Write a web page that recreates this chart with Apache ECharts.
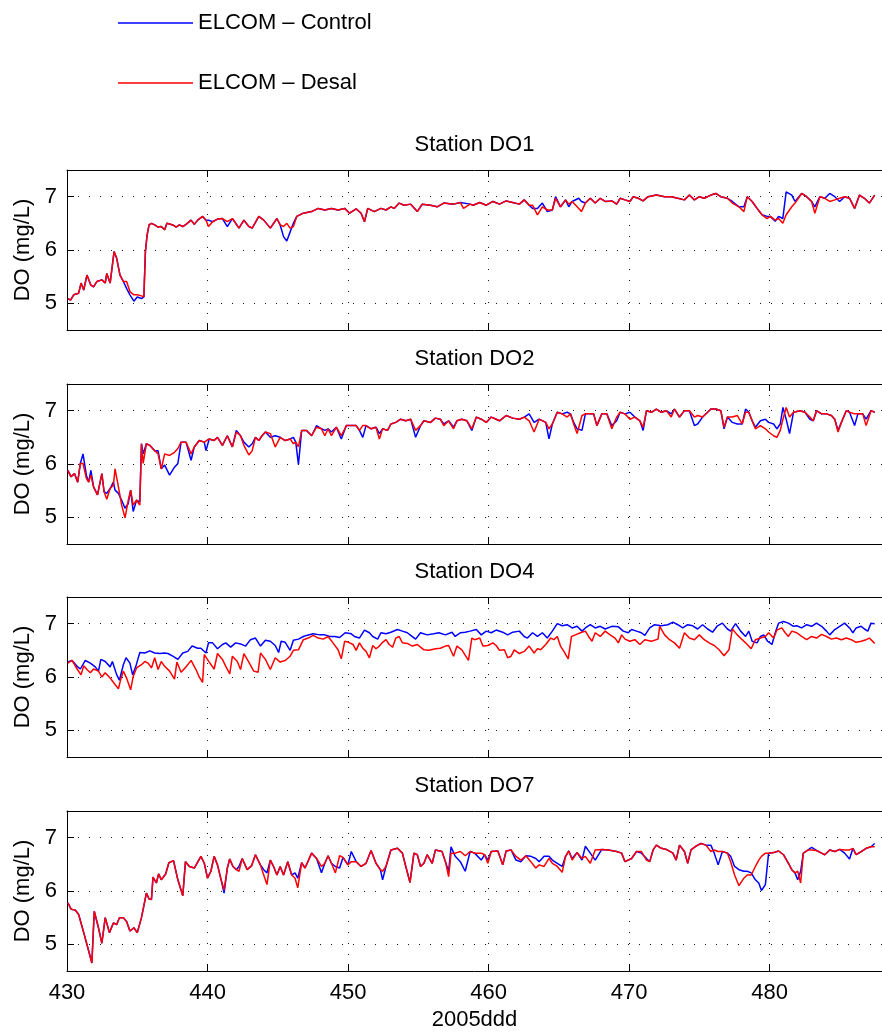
<!DOCTYPE html>
<html>
<head>
<meta charset="utf-8">
<title>Station DO comparison</title>
<script src="https://cdn.jsdelivr.net/npm/echarts@6/dist/echarts.min.js"></script>
<style>
  html, body { margin: 0; padding: 0; background: #fff; }
  #chart { width: 882px; height: 1032px; }
</style>
</head>
<body>
<div id="chart"></div>
<script>
// ---- data: day of year (2005ddd) and dissolved oxygen (mg/L) ----
const stationNames = ['Station DO1', 'Station DO2', 'Station DO4', 'Station DO7'];
const seriesNames = ['ELCOM \u2013 Control', 'ELCOM \u2013 Desal'];
const xTicks = [430, 440, 450, 460, 470, 480];
const yTicks = [5, 6, 7];

// Station DO1 (shared time base)
const days1 = [430.06,430.25,430.48,430.83,431.0,431.19,431.42,431.7,431.89,432.13,
432.48,432.72,432.83,433.07,433.35,433.54,433.77,434.01,434.24,434.48,
434.76,435.0,435.3,435.47,435.58,435.7,435.84,436.01,436.24,436.48,
436.71,436.95,437.11,437.53,437.77,438.0,438.24,438.47,438.83,439.06,
439.3,439.65,439.89,440.07,440.36,440.71,441.06,441.41,441.77,442.24,
442.59,442.94,443.18,443.65,444.0,444.47,444.94,445.17,445.41,445.64,
445.88,446.11,446.35,446.82,447.41,447.88,448.35,448.82,449.29,449.76,
450.11,450.58,450.93,451.17,451.4,451.87,452.34,452.7,453.05,453.28,
453.64,453.99,454.46,454.93,455.28,455.87,456.34,456.81,457.51,457.99,
458.22,458.69,458.9,459.37,459.84,460.31,460.78,461.25,461.72,462.19,
462.54,462.89,463.13,463.48,463.83,464.18,464.54,464.77,465.12,465.48,
465.71,465.95,466.42,466.61,466.89,467.24,467.59,467.95,468.3,468.77,
469.12,469.36,469.71,470.06,470.3,470.65,471.0,471.35,471.94,472.53,
473.0,473.47,473.94,474.29,474.65,475.0,475.35,475.82,476.17,476.53,
477.0,477.35,477.82,478.17,478.41,478.76,479.11,479.46,479.82,480.05,
480.4,480.64,480.94,481.18,481.58,481.81,482.28,482.64,482.99,483.22,
483.58,483.93,484.28,484.64,484.99,485.34,485.69,486.05,486.4,486.75,
487.1,487.48];
const ctrl1 = [5.09,5.06,5.16,5.19,5.38,5.25,5.53,5.34,5.31,5.41,
5.44,5.38,5.56,5.38,5.97,5.84,5.53,5.41,5.28,5.16,
5.04,5.12,5.09,5.12,5.97,6.28,6.47,6.5,6.47,6.43,
6.44,6.38,6.5,6.47,6.43,6.47,6.44,6.48,6.56,6.48,
6.56,6.63,6.56,6.56,6.53,6.58,6.59,6.44,6.59,6.41,
6.56,6.44,6.41,6.63,6.56,6.41,6.59,6.47,6.25,6.17,
6.34,6.5,6.63,6.69,6.72,6.78,6.75,6.78,6.75,6.78,
6.69,6.77,6.69,6.53,6.78,6.72,6.78,6.75,6.81,6.78,
6.88,6.84,6.86,6.72,6.86,6.84,6.81,6.88,6.86,6.89,
6.88,6.86,6.84,6.89,6.84,6.91,6.86,6.92,6.89,6.86,
6.94,6.84,6.78,6.78,6.88,6.72,6.75,7.0,6.81,6.94,
6.81,6.91,6.97,6.91,6.88,6.97,6.88,6.97,6.91,6.92,
6.86,6.97,6.94,6.91,7.0,6.97,6.92,7.0,7.03,7.0,
7.0,6.97,6.94,7.03,6.94,7.0,6.97,7.03,7.06,7.0,
6.97,6.91,6.81,6.81,7.0,6.91,6.78,6.66,6.63,6.63,
6.54,6.63,6.59,7.09,7.03,6.91,7.06,7.0,6.91,6.81,
7.0,6.97,7.06,7.0,6.91,7.0,6.97,6.78,7.03,6.97,
6.88,7.03];
const desal1 = [5.09,5.06,5.16,5.19,5.38,5.25,5.53,5.34,5.31,5.41,
5.44,5.38,5.56,5.38,5.97,5.84,5.53,5.41,5.41,5.22,
5.16,5.16,5.14,5.12,5.97,6.28,6.47,6.5,6.47,6.43,
6.44,6.38,6.5,6.47,6.43,6.47,6.44,6.48,6.56,6.48,
6.56,6.63,6.56,6.44,6.53,6.58,6.59,6.53,6.59,6.41,
6.56,6.44,6.41,6.63,6.56,6.41,6.59,6.47,6.44,6.5,
6.41,6.44,6.63,6.69,6.72,6.78,6.75,6.78,6.75,6.78,
6.69,6.77,6.69,6.53,6.78,6.72,6.78,6.75,6.81,6.78,
6.88,6.84,6.86,6.72,6.86,6.84,6.81,6.88,6.86,6.89,
6.78,6.86,6.84,6.89,6.84,6.91,6.86,6.92,6.89,6.86,
6.94,6.84,6.84,6.66,6.81,6.75,6.75,6.97,6.81,6.94,
6.86,6.91,6.78,6.72,6.88,6.97,6.88,6.97,6.91,6.92,
6.86,6.97,6.94,6.91,7.0,6.97,6.92,7.0,7.03,7.0,
7.0,6.97,6.94,7.03,6.94,7.0,6.97,7.03,7.06,7.0,
6.97,6.88,6.81,6.72,7.0,6.91,6.78,6.66,6.59,6.63,
6.56,6.59,6.5,6.66,6.81,6.88,7.06,7.0,6.91,6.69,
7.0,6.97,6.91,6.94,6.97,7.0,6.97,6.78,7.03,6.97,
6.88,7.03];

// Station DO2 (shared time base)
const days2 = [430.06,430.29,430.53,430.76,430.95,431.14,431.38,431.54,431.7,431.89,
432.17,432.48,432.64,432.83,433.07,433.3,433.42,433.66,433.89,434.13,
434.36,434.53,434.71,434.95,435.18,435.3,435.42,435.65,435.89,436.24,
436.48,436.71,436.95,437.3,437.65,437.89,438.12,438.47,438.83,439.06,
439.41,439.77,439.89,440.12,440.47,440.71,441.06,441.41,441.77,442.05,
442.35,442.59,442.94,443.18,443.41,443.65,443.88,444.12,444.47,444.82,
445.17,445.53,445.88,446.11,446.28,446.47,446.7,447.05,447.41,447.76,
448.11,448.35,448.58,448.82,449.17,449.52,449.88,450.23,450.58,450.81,
451.05,451.28,451.64,451.99,452.23,452.46,452.81,453.05,453.4,453.75,
454.11,454.46,454.81,455.16,455.4,455.87,456.22,456.57,456.81,457.16,
457.51,457.75,458.1,458.46,458.81,459.13,459.48,459.84,460.19,460.54,
460.78,461.25,461.72,462.19,462.54,462.89,463.24,463.6,464.07,464.3,
464.54,464.89,465.24,465.59,465.83,466.06,466.3,466.65,466.89,467.24,
467.48,467.71,468.06,468.42,468.77,469.12,469.36,469.71,470.06,470.41,
470.77,471.0,471.24,471.59,471.94,472.29,472.65,473.0,473.23,473.59,
473.94,474.29,474.65,474.88,475.23,475.59,475.82,476.17,476.53,476.76,
477.0,477.35,477.7,478.05,478.29,478.52,478.76,478.99,479.35,479.7,
479.93,480.29,480.52,480.76,480.95,481.18,481.42,481.7,482.17,482.52,
482.87,483.11,483.34,483.7,484.05,484.4,484.64,484.87,485.11,485.46,
485.69,486.05,486.28,486.63,486.87,487.22,487.48];
const ctrl2 = [5.88,5.76,5.82,5.66,6.01,6.19,5.79,5.66,5.88,5.57,
5.42,5.82,5.48,5.45,5.54,5.66,5.51,5.45,5.32,5.17,
5.26,5.51,5.11,5.32,5.29,6.38,6.19,6.38,6.35,6.25,
6.25,5.91,5.98,5.79,5.94,6.01,6.41,6.41,6.07,6.32,
6.44,6.41,6.25,6.47,6.44,6.5,6.35,6.53,6.32,6.63,
6.53,6.41,6.32,6.38,6.5,6.44,6.53,6.6,6.5,6.53,
6.5,6.44,6.47,6.5,6.41,5.99,6.63,6.63,6.53,6.72,
6.66,6.63,6.66,6.6,6.69,6.47,6.72,6.72,6.72,6.63,
6.5,6.72,6.66,6.69,6.57,6.66,6.63,6.75,6.78,6.84,
6.81,6.84,6.5,6.72,6.81,6.78,6.86,6.84,6.75,6.81,
6.69,6.81,6.84,6.81,6.63,6.88,6.84,6.78,6.88,6.84,
6.81,6.91,6.86,6.84,6.88,6.94,6.78,6.84,6.78,6.47,
6.75,6.97,6.94,6.97,6.94,6.78,6.66,6.63,6.94,6.94,
6.94,6.72,6.94,6.94,6.72,6.81,6.97,6.94,6.97,6.88,
6.81,6.63,7.0,6.97,7.03,6.97,7.0,6.94,7.03,6.88,
7.0,7.0,6.72,6.75,6.88,6.97,7.03,7.03,7.0,6.66,
6.88,6.78,6.75,6.75,7.03,6.97,6.81,6.69,6.81,6.84,
6.78,6.75,6.66,6.75,7.06,6.84,6.57,6.97,7.0,6.97,
6.84,6.81,7.0,6.94,6.94,6.91,6.84,6.63,6.78,7.0,
6.97,6.72,6.94,6.94,6.84,7.0,6.97];
const desal2 = [5.88,5.76,5.82,5.66,6.01,6.01,5.73,5.66,5.79,5.57,
5.42,5.82,5.48,5.34,5.54,5.6,5.91,5.57,5.23,4.99,
5.32,5.51,5.23,5.32,5.23,6.38,6.01,6.38,6.35,6.25,
6.19,5.91,6.19,6.16,6.22,6.29,6.41,6.41,6.19,6.32,
6.44,6.41,6.44,6.47,6.44,6.5,6.35,6.53,6.32,6.6,
6.53,6.35,6.17,6.25,6.5,6.44,6.53,6.6,6.57,6.32,
6.5,6.44,6.47,6.38,6.41,6.32,6.63,6.63,6.53,6.69,
6.66,6.53,6.66,6.53,6.69,6.53,6.72,6.72,6.72,6.63,
6.72,6.72,6.66,6.69,6.47,6.66,6.63,6.75,6.78,6.84,
6.81,6.84,6.63,6.72,6.81,6.78,6.86,6.84,6.72,6.81,
6.66,6.81,6.84,6.81,6.66,6.88,6.84,6.78,6.88,6.84,
6.81,6.91,6.86,6.84,6.88,6.81,6.6,6.84,6.78,6.66,
6.75,6.97,6.94,6.88,6.94,6.75,6.57,6.91,6.94,6.94,
6.94,6.72,6.94,6.94,6.66,6.88,6.97,6.94,6.84,6.88,
6.81,6.69,7.0,6.97,7.03,6.97,7.0,6.88,7.03,6.88,
7.0,7.0,6.88,6.91,6.88,6.97,7.03,7.03,7.0,6.69,
6.88,6.88,6.91,6.75,6.97,6.97,6.81,6.66,6.72,6.66,
6.6,6.53,6.5,6.63,6.84,7.06,6.88,6.97,7.0,6.97,
6.88,6.81,7.0,6.94,6.94,6.91,6.84,6.6,6.78,7.0,
6.97,6.94,6.94,6.94,6.72,7.0,6.97];

// Station DO4 (separate time bases)
const daysCtrl4 = [430.06,430.36,430.72,430.95,431.3,431.66,432.01,432.24,432.41,432.72,
433.07,433.23,433.54,433.73,434.01,434.2,434.48,434.67,434.9,435.18,
435.54,435.89,436.24,436.6,436.95,437.18,437.53,437.89,438.24,438.59,
438.9,439.3,439.53,439.89,440.07,440.36,440.71,441.06,441.3,441.65,
442.0,442.35,442.71,443.06,443.41,443.77,444.12,444.47,444.82,445.06,
445.24,445.53,445.88,446.11,446.47,446.82,447.05,447.52,447.99,448.35,
448.7,449.05,449.4,449.8,450.23,450.46,450.81,451.17,451.52,451.76,
452.11,452.34,452.7,453.05,453.52,453.87,454.22,454.46,454.81,455.16,
455.63,456.1,456.46,456.93,457.4,457.63,457.99,458.34,458.69,
459.13,459.48,459.84,460.19,460.54,461.01,461.36,461.72,462.19,462.54,
462.77,463.13,463.48,463.83,464.18,464.54,464.89,465.24,465.59,465.95,
466.3,466.65,466.89,467.24,467.59,467.95,468.3,468.77,469.24,469.59,
469.94,470.18,470.53,470.88,471.12,471.47,471.82,472.29,472.76,473.12,
473.47,473.82,474.17,474.53,474.88,475.23,475.59,475.94,476.29,476.64,
477.0,477.23,477.58,477.94,478.29,478.52,478.76,479.11,479.35,479.58,
479.86,480.17,480.4,480.64,480.99,481.34,481.7,481.93,482.28,482.64,
482.99,483.34,483.7,484.05,484.28,484.64,484.99,485.34,485.69,485.93,
486.16,486.52,486.75,486.99,487.22,487.48];
const ctrl4 = [6.28,6.31,6.2,6.15,6.31,6.26,6.19,6.11,6.33,6.29,
6.19,6.29,6.04,5.94,6.23,6.36,6.26,6.04,6.2,6.46,
6.45,6.49,6.45,6.44,6.45,6.44,6.39,6.33,6.45,6.48,
6.58,6.54,6.54,6.45,6.64,6.64,6.53,6.61,6.64,6.56,
6.64,6.62,6.58,6.7,6.73,6.58,6.69,6.67,6.59,6.46,
6.67,6.65,6.5,6.69,6.71,6.76,6.78,6.81,6.79,6.79,
6.76,6.76,6.74,6.83,6.81,6.76,6.73,6.88,6.83,6.76,
6.71,6.83,6.81,6.84,6.89,6.86,6.83,6.78,6.71,6.83,
6.79,6.81,6.83,6.79,6.84,6.76,6.83,6.84,6.86,
6.89,6.79,6.86,6.83,6.88,6.84,6.79,6.84,6.86,6.76,
6.73,6.83,6.76,6.83,6.73,6.86,7.0,6.96,6.98,6.92,
6.95,6.86,6.92,6.98,6.92,6.95,6.9,6.95,6.94,6.86,
6.83,6.89,6.86,6.83,6.78,6.92,6.98,6.96,6.98,7.03,
6.98,6.92,6.98,6.96,6.9,6.98,6.9,6.84,6.96,7.01,
6.9,6.86,7.0,6.86,6.76,6.86,6.67,6.64,6.76,6.79,
6.67,6.61,6.83,7.01,7.04,7.01,6.95,6.96,6.92,6.98,
6.95,7.01,6.95,6.86,6.79,6.89,6.95,7.01,6.92,6.83,
6.92,6.95,6.9,6.86,7.01,7.0];
const daysDesal4 = [430.06,430.36,430.72,431.0,431.19,431.42,431.66,431.89,432.24,432.48,
432.72,433.07,433.42,433.66,433.82,434.01,434.24,434.53,434.71,434.95,
435.3,435.54,435.77,436.01,436.24,436.48,436.71,436.95,437.3,437.65,
437.82,438.12,438.47,438.83,439.18,439.41,439.65,439.77,440.12,440.47,
440.71,441.06,441.3,441.58,441.77,442.12,442.35,442.59,442.94,443.29,
443.6,443.77,444.12,444.47,444.82,445.17,445.53,445.88,446.11,446.47,
446.82,447.17,447.52,447.88,448.23,448.58,448.93,449.29,449.52,449.76,
450.04,450.35,450.58,450.81,451.05,451.28,451.52,451.76,451.99,452.23,
452.46,452.7,452.93,453.17,453.4,453.64,453.87,454.22,454.58,454.93,
455.16,455.4,455.75,456.22,456.57,456.93,457.16,457.51,457.75,458.1,
458.57,458.81,459.01,459.37,459.6,459.95,460.31,460.54,460.78,461.13,
461.36,461.6,461.83,462.19,462.54,462.89,463.24,463.48,463.71,464.07,
464.42,464.65,464.89,465.12,465.36,465.67,465.9,466.18,466.54,466.89,
467.12,467.36,467.59,467.95,468.3,468.65,469.0,469.24,469.47,469.71,
470.06,470.41,470.77,471.12,471.59,472.06,472.18,472.53,472.88,473.23,
473.59,473.94,474.29,474.65,475.0,475.35,475.7,476.06,476.41,476.76,
477.11,477.35,477.7,478.05,478.41,478.69,478.99,479.35,479.7,479.93,
480.29,480.52,480.87,481.11,481.34,481.58,481.93,482.28,482.64,482.99,
483.34,483.7,484.05,484.4,484.75,485.11,485.46,485.81,486.16,486.52,
486.87,487.1,487.48];
const desal4 = [6.26,6.31,6.15,6.04,6.21,6.14,6.08,6.15,6.11,6.0,
6.08,5.98,5.86,5.78,5.95,6.11,5.98,5.76,6.01,6.17,
6.23,6.29,6.26,6.17,6.36,6.14,6.29,6.2,6.11,5.96,
6.28,6.09,6.19,6.31,6.14,6.0,5.9,6.42,6.28,6.15,
6.44,6.33,6.2,6.06,6.39,6.29,6.14,6.44,6.28,6.11,
6.09,6.45,6.33,6.14,6.36,6.28,6.31,6.39,6.5,6.51,
6.7,6.73,6.78,6.73,6.71,6.76,6.64,6.51,6.34,6.67,
6.65,6.61,6.5,6.64,6.54,6.48,6.36,6.59,6.53,6.58,
6.65,6.7,6.61,6.56,6.73,6.76,6.64,6.63,6.58,6.61,
6.56,6.51,6.5,6.53,6.54,6.58,6.59,6.39,6.58,6.51,
6.31,6.73,6.7,6.73,6.58,6.59,6.64,6.59,6.5,6.51,
6.36,6.39,6.51,6.44,6.48,6.58,6.45,6.53,6.51,6.61,
6.73,6.7,6.76,6.58,6.48,6.34,6.76,6.79,6.83,6.86,
6.76,6.67,6.83,6.76,6.86,6.79,6.73,6.64,6.79,6.71,
6.67,6.7,6.61,6.7,6.67,6.71,6.95,6.79,6.7,6.64,
6.54,6.83,6.73,6.7,6.79,6.7,6.64,6.59,6.51,6.4,
6.51,6.9,6.79,6.7,6.61,6.53,6.7,6.73,6.76,6.83,
6.73,6.88,6.92,6.83,6.76,6.86,6.83,6.76,6.7,6.76,
6.73,6.8,6.76,6.71,6.73,6.7,6.73,6.7,6.65,6.67,
6.7,6.73,6.63];

// Station DO7 (shared time base)
const days7 = [430.06,430.29,430.6,430.83,431.19,431.54,431.77,431.94,432.24,432.48,
432.72,433.02,433.3,433.54,433.73,434.01,434.24,434.48,434.76,435.0,
435.3,435.65,435.84,436.01,436.12,436.36,436.52,436.71,437.02,437.25,
437.58,437.89,438.24,438.43,438.71,439.06,439.53,439.77,440.0,440.24,
440.47,440.71,440.94,441.18,441.41,441.58,441.81,442.05,442.24,442.47,
442.82,443.13,443.41,443.76,444.0,444.23,444.47,444.7,444.94,445.17,
445.41,445.71,445.99,446.23,446.42,446.7,446.94,447.41,447.76,448.11,
448.35,448.58,448.82,449.1,449.4,449.64,449.99,450.23,450.58,450.93,
451.28,451.64,451.99,452.3,452.46,452.7,453.05,453.52,453.87,454.11,
454.41,454.69,454.93,455.16,455.4,455.63,455.99,456.22,456.69,456.93,
457.16,457.33,457.63,457.99,458.34,458.69,
459.01,459.48,459.72,459.95,460.19,460.66,461.01,461.25,461.6,461.95,
462.3,462.66,463.01,463.36,463.6,463.95,464.3,464.54,464.89,465.24,
465.48,465.71,465.95,466.3,466.65,466.89,467.24,467.59,468.06,468.53,
469.12,469.47,469.71,470.18,470.53,470.88,471.24,471.47,471.71,471.94,
472.29,472.65,473.12,473.35,473.59,473.94,474.17,474.41,474.76,475.11,
475.47,475.82,476.06,476.34,476.64,477.0,477.23,477.51,477.82,478.17,
478.41,478.69,478.99,479.23,479.42,479.7,479.93,480.29,480.64,480.99,
481.34,481.58,481.81,482.0,482.21,482.4,482.75,482.99,483.34,483.7,
483.93,484.28,484.64,484.99,485.34,485.69,485.93,486.16,486.52,486.87,
487.22,487.48];
const ctrl7 = [5.78,5.66,5.64,5.56,5.22,4.88,4.65,5.62,5.31,5.02,
5.5,5.22,5.4,5.37,5.5,5.5,5.43,5.25,5.31,5.22,
5.5,5.96,5.85,5.84,6.26,6.15,6.32,6.21,6.32,6.53,
6.57,6.21,5.91,6.55,6.46,6.43,6.65,6.52,6.24,6.37,
6.65,6.49,6.24,5.96,6.43,6.6,6.46,6.4,6.46,6.61,
6.4,6.47,6.68,6.49,6.4,6.34,6.58,6.46,6.3,6.46,
6.3,6.55,6.3,6.34,6.24,6.53,6.43,6.71,6.61,6.34,
6.52,6.66,6.52,6.46,6.43,6.63,6.49,6.74,6.55,6.46,
6.52,6.76,6.52,6.4,6.21,6.46,6.77,6.8,6.71,6.46,
6.16,6.71,6.68,6.46,6.52,6.68,6.52,6.77,6.74,6.55,
6.37,6.83,6.65,6.55,6.37,6.74,
6.71,6.58,6.68,6.58,6.74,6.75,6.49,6.75,6.77,6.58,
6.55,6.66,6.65,6.61,6.55,6.65,6.65,6.58,6.52,6.46,
6.65,6.75,6.61,6.72,6.58,6.84,6.71,6.58,6.78,6.77,
6.74,6.71,6.55,6.61,6.74,6.71,6.61,6.55,6.77,6.86,
6.8,6.78,6.71,6.58,6.86,6.74,6.52,6.77,6.84,6.89,
6.86,6.86,6.71,6.49,6.74,6.71,6.65,6.46,6.4,6.37,
6.37,6.34,6.21,6.15,6.01,6.12,6.71,6.72,6.75,6.68,
6.52,6.4,6.34,6.21,6.37,6.71,6.77,6.82,6.76,6.71,
6.68,6.77,6.74,6.78,6.71,6.6,6.8,6.68,6.74,6.8,
6.83,6.89];
const desal7 = [5.78,5.66,5.64,5.56,5.22,4.88,4.65,5.62,5.31,5.02,
5.5,5.22,5.4,5.37,5.5,5.5,5.43,5.25,5.31,5.22,
5.5,5.96,5.85,5.84,6.26,6.15,6.32,6.21,6.32,6.53,
6.57,6.21,5.91,6.55,6.46,6.43,6.65,6.52,6.24,6.37,
6.65,6.49,6.24,6.02,6.43,6.6,6.46,6.4,6.37,6.61,
6.4,6.47,6.68,6.49,6.3,6.12,6.58,6.46,6.3,6.46,
6.3,6.55,6.3,6.24,6.06,6.53,6.43,6.71,6.61,6.46,
6.52,6.66,6.52,6.34,6.66,6.63,6.49,6.55,6.55,6.46,
6.52,6.76,6.52,6.4,6.37,6.46,6.77,6.8,6.71,6.46,
6.16,6.71,6.68,6.46,6.52,6.68,6.52,6.77,6.74,6.55,
6.27,6.71,6.71,6.74,6.66,6.74,
6.71,6.71,6.68,6.52,6.74,6.75,6.49,6.75,6.77,6.65,
6.58,6.66,6.55,6.43,6.49,6.46,6.61,6.52,6.46,6.35,
6.65,6.75,6.58,6.72,6.61,6.65,6.52,6.77,6.78,6.77,
6.74,6.71,6.55,6.61,6.74,6.74,6.58,6.55,6.77,6.86,
6.8,6.78,6.71,6.58,6.86,6.74,6.52,6.77,6.84,6.89,
6.86,6.74,6.77,6.74,6.74,6.71,6.55,6.3,6.1,6.24,
6.3,6.3,6.46,6.58,6.65,6.71,6.71,6.72,6.75,6.68,
6.52,6.4,6.34,6.37,6.15,6.71,6.77,6.77,6.76,6.71,
6.68,6.77,6.74,6.78,6.77,6.77,6.8,6.68,6.74,6.8,
6.83,6.83];

// ---- layout ----
const FONT = '"Liberation Sans", Arial, Helvetica, sans-serif';
const FS = 22;
const X_MIN = 430, X_MAX = 488;
const Y_MIN = 4.5, Y_MAX = 7.5;
const gridTops = [170, 384, 597, 811];
const GRID_LEFT = 67, GRID_WIDTH = 821, GRID_HEIGHT = 160;
const BLUE = '#0000ff', RED = '#ff0000';

const panels = [
  { cx: days1, cy: ctrl1, dx: days1, dy: desal1 },
  { cx: days2, cy: ctrl2, dx: days2, dy: desal2 },
  { cx: daysCtrl4, cy: ctrl4, dx: daysDesal4, dy: desal4 },
  { cx: days7, cy: ctrl7, dx: days7, dy: desal7 }
];

const pairs = (xs, ys) => xs.map((x, i) => [x, ys[i]]);
const dotted = { color: '#1a1a1a', width: 1, type: [1, 10] };

const grid = gridTops.map(t => ({ left: GRID_LEFT, top: t, width: GRID_WIDTH, height: GRID_HEIGHT }));

const xAxis = [];
// bottom axes (carry the data, grid lines and, on the last panel, labels)
gridTops.forEach((t, i) => {
  const last = i === gridTops.length - 1;
  xAxis.push({
    type: 'value', gridIndex: i, position: 'bottom',
    min: X_MIN, max: X_MAX, interval: 10,
    axisLine: { show: true, onZero: false, lineStyle: { color: '#000', width: 1 } },
    axisTick: { show: true, inside: true, length: 7, customValues: xTicks, lineStyle: { color: '#000' } },
    axisLabel: { show: last, customValues: xTicks, color: '#000', fontFamily: FONT, fontSize: FS, margin: 11 },
    splitLine: { show: true, lineStyle: dotted },
    name: last ? '2005ddd' : '', nameLocation: 'middle', nameGap: 38,
    nameTextStyle: { color: '#000', fontFamily: FONT, fontSize: FS }
  });
});
// top axes (frame edge, inward ticks, panel titles)
gridTops.forEach((t, i) => {
  xAxis.push({
    type: 'value', gridIndex: i, position: 'top',
    min: X_MIN, max: X_MAX, interval: 10,
    axisLine: { show: true, onZero: false, lineStyle: { color: '#000', width: 1 } },
    axisTick: { show: true, inside: true, length: 7, customValues: xTicks, lineStyle: { color: '#000' } },
    axisLabel: { show: false },
    splitLine: { show: false },
    name: stationNames[i], nameLocation: 'middle', nameGap: 14,
    nameTextStyle: { color: '#000', fontFamily: FONT, fontSize: FS }
  });
});

const yAxis = gridTops.map((t, i) => ({
  type: 'value', gridIndex: i, position: 'left',
  min: Y_MIN, max: Y_MAX,
  axisLine: { show: true, onZero: false, lineStyle: { color: '#000', width: 1 } },
  axisTick: { show: true, inside: true, length: 7, customValues: yTicks, lineStyle: { color: '#000' } },
  axisLabel: { show: true, customValues: yTicks, color: '#000', fontFamily: FONT, fontSize: FS, margin: 10 },
  splitLine: { show: true, lineStyle: dotted },
  name: 'DO (mg/L)', nameLocation: 'middle', nameRotate: 90, nameGap: 33,
  nameTextStyle: { color: '#000', fontFamily: FONT, fontSize: FS }
}));

const series = [];
panels.forEach((p, i) => {
  series.push({
    name: seriesNames[0], type: 'line', xAxisIndex: i, yAxisIndex: i,
    data: pairs(p.cx, p.cy), showSymbol: false, symbol: 'none',
    color: BLUE, lineStyle: { color: BLUE, width: 1.5 }, z: 2
  });
  series.push({
    name: seriesNames[1], type: 'line', xAxisIndex: i, yAxisIndex: i,
    data: pairs(p.dx, p.dy), showSymbol: false, symbol: 'none',
    color: RED, lineStyle: { color: RED, width: 1.5 }, z: 3
  });
});

const legendBase = {
  left: 113, icon: 'rect', itemWidth: 75, itemHeight: 1.5, itemGap: 5,
  textStyle: { color: '#000', fontFamily: FONT, fontSize: FS },
  selectedMode: false
};

const chart = echarts.init(document.getElementById('chart'), null, { renderer: 'canvas' });
chart.setOption({
  animation: false,
  backgroundColor: '#fff',
  legend: [
    Object.assign({}, legendBase, { top: 7, data: [seriesNames[0]] }),
    Object.assign({}, legendBase, { top: 67, data: [seriesNames[1]] })
  ],
  grid, xAxis, yAxis, series
});
</script>
</body>
</html>
